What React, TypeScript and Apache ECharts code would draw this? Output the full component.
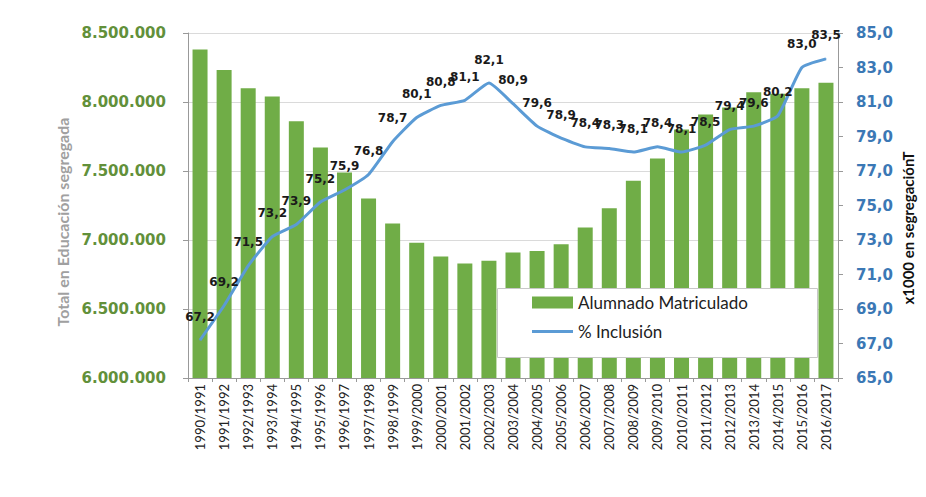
import React, { useEffect, useRef } from "react";
import * as echarts from "echarts";

const categories = [
  "1990/1991", "1991/1992", "1992/1993", "1993/1994", "1994/1995", "1995/1996",
  "1996/1997", "1997/1998", "1998/1999", "1999/2000", "2000/2001", "2001/2002",
  "2002/2003", "2003/2004", "2004/2005", "2005/2006", "2006/2007", "2007/2008",
  "2008/2009", "2009/2010", "2010/2011", "2011/2012", "2012/2013", "2013/2014",
  "2014/2015", "2015/2016", "2016/2017",
];

const alumnado = [
  8380000, 8232000, 8100000, 8040000, 7860000, 7670000, 7490000, 7300000, 7120000,
  6980000, 6880000, 6830000, 6850000, 6910000, 6920000, 6970000, 7090000, 7230000,
  7430000, 7590000, 7800000, 7910000, 7960000, 8070000, 8060000, 8100000, 8140000,
];

const inclusion = [
  67.2, 69.2, 71.5, 73.2, 73.9, 75.2, 75.9, 76.8, 78.7, 80.1, 80.8, 81.1, 82.1, 80.9,
  79.6, 78.9, 78.4, 78.3, 78.1, 78.4, 78.1, 78.5, 79.4, 79.6, 80.2, 83.0, 83.5,
];

const leftAxisName = "Total en Educación segregada";
const rightAxisName = "x1000 en segregaciónT";
const barName = "Alumnado Matriculado";
const lineName = "% Inclusión";

const fmtThousands = (v: number) =>
  String(Math.round(v)).replace(/\B(?=(\d{3})+(?!\d))/g, ".");
const fmtDec = (v: number) => v.toFixed(1).replace(".", ",");

export default function App() {
  const ref = useRef<HTMLDivElement>(null);
  useEffect(() => {
    if (!ref.current) return;
    const chart = echarts.init(ref.current, null, { renderer: "svg" });
    chart.setOption({
      animation: false,
      backgroundColor: "#ffffff",
      grid: { left: 188, right: 88, top: 33, bottom: 119, containLabel: false },
      legend: {
        orient: "vertical",
        left: 532,
        top: 294,
        itemWidth: 41,
        itemHeight: 12,
        itemGap: 12,
        padding: 0,
        z: 20,
        textStyle: { fontFamily: "Lato", fontSize: 17, color: "#222" },
        data: [
          { name: barName, icon: "rect" },
          { name: lineName, icon: "path://M0,0 L40,0 L40,3 L0,3 Z" },
        ],
      },
      graphic: [
        {
          type: "rect",
          z: 10,
          shape: { x: 497.5, y: 288.5, width: 320, height: 69 },
          style: { fill: "#ffffff", stroke: "#c8c8c8", lineWidth: 1 },
        },
        {
          type: "rect",
          z: -1,
          silent: true,
          shape: { x: 6.5, y: 3.5, width: 930, height: 489 },
          style: { fill: "none", stroke: "#c8c8c8", lineWidth: 1.5 },
        },
        {
          type: "text",
          x: 62,
          y: 222,
          rotation: Math.PI / 2,
          style: {
            text: leftAxisName,
            fill: "#a0a0a0",
            font: "bold 16px Lato",
            align: "center",
            verticalAlign: "middle",
          },
        },
        {
          type: "text",
          x: 908,
          y: 228,
          rotation: Math.PI / 2,
          style: {
            text: rightAxisName,
            fill: "#111",
            font: "bold 15px Lato",
            align: "center",
            verticalAlign: "middle",
          },
        },
      ],
      xAxis: {
        type: "category",
        data: categories,
        axisLine: { lineStyle: { color: "#999" } },
        axisTick: { show: true, length: 4, lineStyle: { color: "#999" } },
        axisLabel: {
          rotate: 90,
          interval: 0,
          margin: 6,
          fontFamily: "Lato",
          fontSize: 13,
          color: "#222",
        },
      },
      yAxis: [
        {
          type: "value",
          min: 6000000,
          max: 8500000,
          interval: 500000,
          position: "left",
          axisLine: { show: true, lineStyle: { color: "#999" } },
          axisTick: { show: true, length: 5, lineStyle: { color: "#999" } },
          splitLine: { show: true, lineStyle: { color: "#dadada" } },
          axisLabel: {
            margin: 22,
            formatter: fmtThousands,
            fontFamily: "DejaVu Sans",
            fontWeight: "bold",
            fontSize: 15,
            color: "#62903a",
          },
        },
        {
          type: "value",
          min: 65,
          max: 85,
          interval: 2,
          position: "right",
          axisLine: { show: true, lineStyle: { color: "#999" } },
          axisTick: { show: true, length: 5, lineStyle: { color: "#999" } },
          splitLine: { show: false },
          axisLabel: {
            margin: 18,
            formatter: fmtDec,
            fontFamily: "DejaVu Sans",
            fontWeight: "bold",
            fontSize: 15,
            color: "#3b78b5",
          },
        },
      ],
      series: [
        {
          name: barName,
          type: "bar",
          yAxisIndex: 0,
          data: alumnado,
          barWidth: 15,
          itemStyle: { color: "#70ad47" },
        },
        {
          name: lineName,
          type: "line",
          yAxisIndex: 1,
          data: inclusion,
          symbol: "circle",
          symbolSize: 1,
          showSymbol: true,
          smooth: 0.15,
          z: 5,
          lineStyle: { color: "#5b9bd5", width: 3 },
          itemStyle: { color: "#5b9bd5" },
          labelLayout: { hideOverlap: false },
          label: {
            show: true,
            position: "top",
            distance: 17,
            formatter: (p: any) => fmtDec(p.value),
            fontFamily: "DejaVu Sans",
            fontWeight: "bold",
            fontSize: 12,
            color: "#1a1a1a",
          },
        },
      ],
    });
    return () => chart.dispose();
  }, []);
  return <div ref={ref} style={{ width: 926, height: 497, margin: -8 }} />;
}
